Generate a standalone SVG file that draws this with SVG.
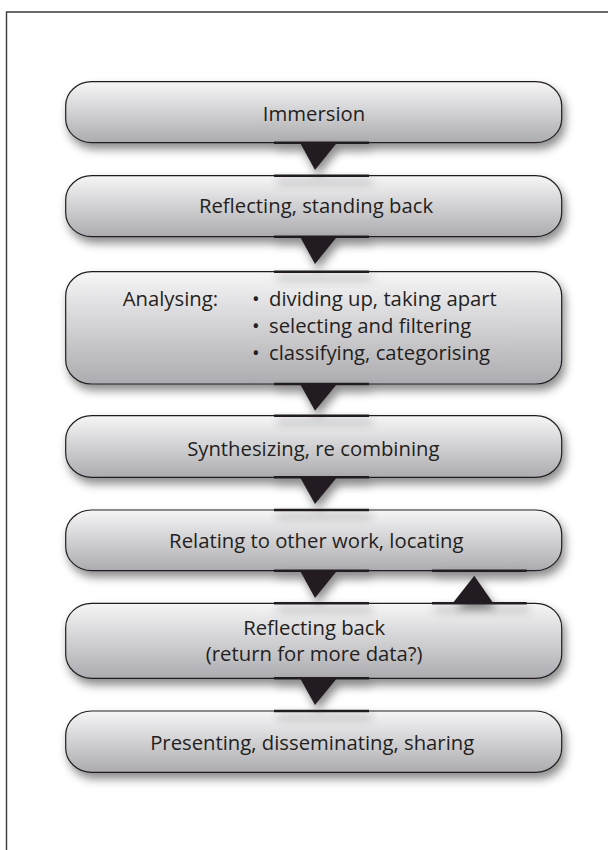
<svg xmlns="http://www.w3.org/2000/svg" width="608" height="850" viewBox="0 0 608 850">
<defs>
<linearGradient id="g" x1="0" y1="0" x2="0" y2="1">
<stop offset="0" stop-color="#f6f6f7"/>
<stop offset="1" stop-color="#acacb0"/>
</linearGradient>
<filter id="sh" x="-10%" y="-30%" width="125%" height="170%">
<feDropShadow dx="3" dy="6" stdDeviation="5" flood-color="#000" flood-opacity="0.45"/>
</filter>
</defs>
<style>
.box{fill:url(#g);stroke:#231f20;stroke-width:1.2;filter:url(#sh)}
.t{font-family:"Open Sans","Noto Sans",sans-serif;font-size:20.3px;fill:#231f20}
.c{text-anchor:middle}
.tri{fill:#231f20}
.bar{stroke:#231f20;stroke-width:2.6;fill:none}
</style>
<rect width="608" height="850" fill="#fff"/>
<path d="M6.5 850 V12 H608" fill="none" stroke="#3a3a3a" stroke-width="1.4"/>
<g id="n1"><rect class="box" x="65.7" y="81.7" width="496" height="61" rx="26" ry="24"/><text class="t c" x="314" y="121">Immersion</text></g>
<g id="n2"><rect class="box" x="65.7" y="175.7" width="496" height="61" rx="26" ry="24"/><text class="t c" x="316" y="213.3">Reflecting, standing back</text></g>
<g id="n3"><rect class="box" x="65.7" y="271.7" width="496" height="112.3" rx="26" ry="24"/>
<text class="t" x="122.7" y="305.7">Analysing:</text>
<text class="t" x="252" y="305.7">•</text><text class="t" x="269" y="305.7">dividing up, taking apart</text>
<text class="t" x="252" y="332.7">•</text><text class="t" x="269" y="332.7">selecting and filtering</text>
<text class="t" x="252" y="359.7">•</text><text class="t" x="269" y="359.7">classifying, categorising</text></g>
<g id="n4"><rect class="box" x="65.7" y="415.7" width="496" height="61.6" rx="26" ry="24"/><text class="t c" x="313.3" y="455.5">Synthesizing, re combining</text></g>
<g id="n5"><rect class="box" x="65.7" y="510" width="496" height="60.7" rx="26" ry="24"/><text class="t c" x="316.3" y="548.3">Relating to other work, locating</text></g>
<g id="n6"><rect class="box" x="65.7" y="603.3" width="496" height="75" rx="26" ry="24"/><text class="t c" x="314.2" y="635">Reflecting back</text><text class="t c" x="314.2" y="661">(return for more data?)</text></g>
<g id="n7"><rect class="box" x="65.7" y="711" width="496" height="61.3" rx="26" ry="24"/><text class="t c" x="312.2" y="750">Presenting, disseminating, sharing</text></g>
<g id="connectors" filter="url(#sh)">
<path class="bar" d="M274 142.7H369M274 175.7H369"/><polygon class="tri" points="300,142.7 337,142.7 315,170"/>
<path class="bar" d="M274 236.7H369M274 271.7H369"/><polygon class="tri" points="300,236.7 337,236.7 315,264"/>
<path class="bar" d="M274 384H369M274 415.7H369"/><polygon class="tri" points="300,384 337,384 315,410.7"/>
<path class="bar" d="M274 477.3H369M274 510H369"/><polygon class="tri" points="300,477.3 337,477.3 315,504"/>
<path class="bar" d="M274 570.7H369M274 603.3H369"/><polygon class="tri" points="300,570.7 337,570.7 315,598"/>
<path class="bar" d="M432 570.7H526.7M432 603.3H526.7"/><polygon class="tri" points="452.7,603.3 493.3,603.3 474.3,575.7"/>
<path class="bar" d="M274 678.3H369M274 711H369"/><polygon class="tri" points="300,678.3 337,678.3 315,705"/>
</g>
</svg>
